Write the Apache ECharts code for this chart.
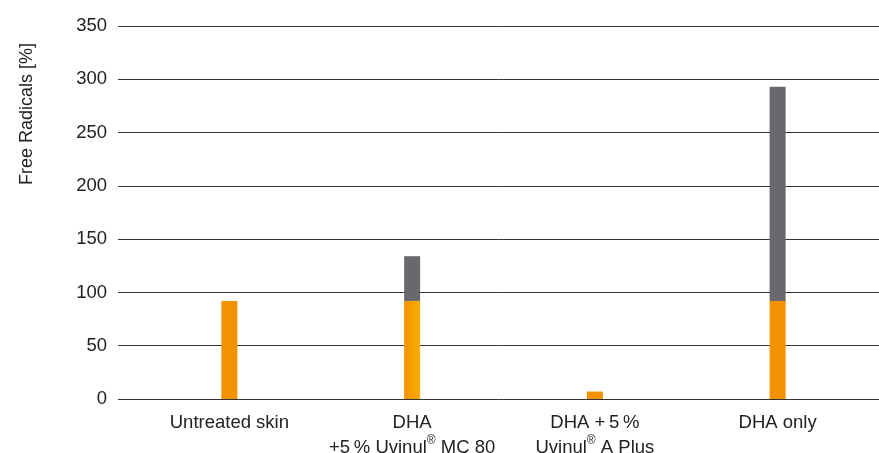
<!DOCTYPE html>
<html>
<head>
<meta charset="utf-8">
<script src="https://cdn.jsdelivr.net/npm/echarts@6/dist/echarts.min.js"></script>
<style>html,body{margin:0;padding:0;background:#fff}#c{width:879px;height:453px}</style>
</head>
<body>
<div id="c"></div>
<script>
var categories = ['Untreated skin', 'DHA\n+5\u2009% Uvinul{s|®} MC 80', 'DHA +\u20095\u2009%\nUvinul{s|®} A Plus', 'DHA only'];
var baseValues = [92, 92, 7, 92];
var extraValues = [0, 42, 0, 201];
var yTicks = [0, 50, 100, 150, 200, 250, 300, 350];
var yAxisTitle = 'Free Radicals [%]';

var FONT = '"Liberation Sans", Arial, Helvetica, sans-serif';
var chart = echarts.init(document.getElementById('c'));
var orangeGrad = new echarts.graphic.LinearGradient(0, 0, 1, 0, [
  {offset: 0, color: '#F39200'}, {offset: 1, color: '#F8AE00'}
]);
var baseData = baseValues.map(function (v, i) {
  return i === 1 ? {value: v, itemStyle: {color: orangeGrad}} : v;
});
chart.setOption({
  animation: false,
  textStyle: {fontFamily: FONT},
  grid: [
    {left: 118, right: 0, top: 26, bottom: 54, outerBoundsMode: 'none', containLabel: false},
    {left: 138, right: 10, top: 26, bottom: 54, outerBoundsMode: 'none', containLabel: false}
  ],
  xAxis: [
    {gridIndex: 0, type: 'category', data: categories, show: false},
    {gridIndex: 1, type: 'category', data: categories,
      axisLine: {show: false}, axisTick: {show: false},
      axisLabel: {color: '#222', fontSize: 18.5, margin: 11, lineHeight: 25, fontFamily: FONT, interval: 0,
        rich: {s: {fontSize: 12, verticalAlign: 'top', padding: [0, 0, 6, 0], color: '#222', fontFamily: FONT}}}}
  ],
  yAxis: [
    {gridIndex: 0, type: 'value', min: 0, max: 350, interval: 50,
      axisLine: {show: false}, axisTick: {show: false},
      axisLabel: {color: '#222', fontSize: 18.5, margin: 11, fontFamily: FONT},
      splitLine: {lineStyle: {color: '#333', width: 1}}},
    {gridIndex: 1, type: 'value', min: 0, max: 350, interval: 50, show: false, splitLine: {show: false}}
  ],
  graphic: [{
    type: 'text', x: 27, y: 114, rotation: Math.PI / 2,
    style: {text: yAxisTitle, fill: '#222', font: '18px ' + FONT, textAlign: 'center', textVerticalAlign: 'middle'}
  }],
  series: [
    {type: 'bar', xAxisIndex: 1, yAxisIndex: 1, stack: 's', barWidth: 16, data: baseData,
      itemStyle: {color: '#F39200'}},
    {type: 'bar', xAxisIndex: 1, yAxisIndex: 1, stack: 's', barWidth: 16, data: extraValues,
      itemStyle: {color: '#69686D'}}
  ]
});
</script>
</body>
</html>
